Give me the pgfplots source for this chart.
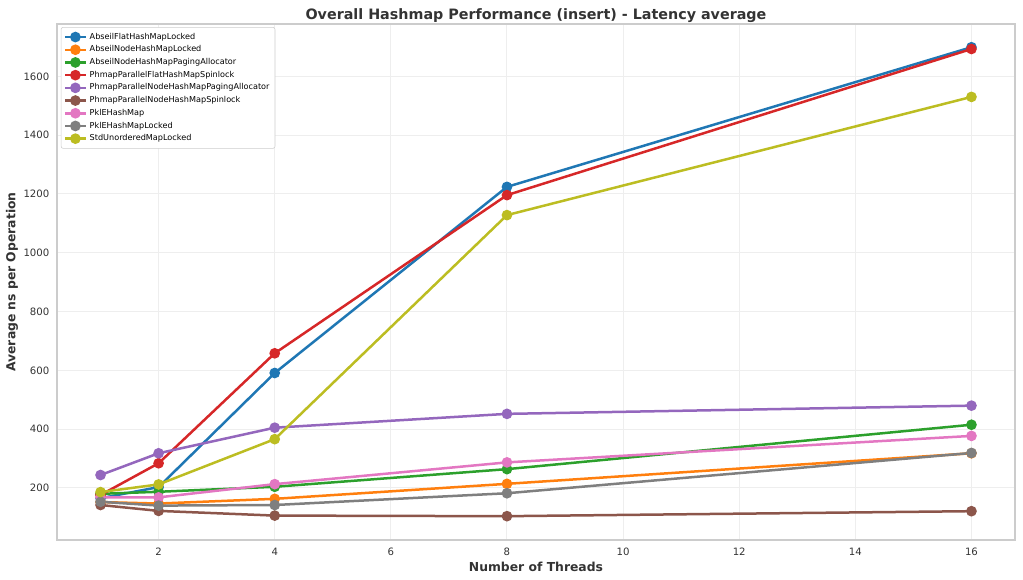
\documentclass[border=0pt]{standalone}
\usepackage{pgfplots}
\pgfplotsset{compat=1.18}
\usepackage{fontspec}
\setmainfont{DejaVu Sans}

\definecolor{c0}{HTML}{1F77B4}
\definecolor{c1}{HTML}{FF7F0E}
\definecolor{c2}{HTML}{2CA02C}
\definecolor{c3}{HTML}{D62728}
\definecolor{c4}{HTML}{9467BD}
\definecolor{c5}{HTML}{8C564B}
\definecolor{c6}{HTML}{E377C2}
\definecolor{c7}{HTML}{7F7F7F}
\definecolor{c8}{HTML}{BCBD22}
\definecolor{spine}{HTML}{CCCCCC}
\definecolor{gridc}{HTML}{EEEEEE}
\definecolor{ticktext}{HTML}{333333}

\begin{document}
\begin{tikzpicture}
\path[use as bounding box] (0,0) rectangle (736.56pt,417.6pt);
\begin{axis}[
  at={(41.04pt,28.8pt)}, anchor=south west,
  scale only axis, width=689.76pt, height=371.52pt,
  xmin=0.25, xmax=16.75, ymin=23, ymax=1778,
  xtick={2,4,...,16}, ytick={200,400,...,1600},
  /pgf/number format/assume math mode=true,
  /pgf/number format/1000 sep={},
  ticklabel style={font=\fontsize{7.3}{8.5}\selectfont, text=ticktext},
  xticklabel style={yshift=-2.5pt},
  yticklabel style={xshift=-2pt},
  major tick length=0pt,
  axis line style={spine, line width=0.8pt},
  grid=major, major grid style={gridc, line width=0.7pt},
  title={\textbf{Overall Hashmap Performance (insert) - Latency average}},
  title style={font=\fontsize{10.3}{12}\selectfont, text=ticktext, yshift=-8.5pt},
  xlabel={\textbf{Number of Threads}},
  ylabel={\textbf{Average ns per Operation}},
  label style={font=\fontsize{8.9}{10}\selectfont, text=ticktext},
  xlabel style={yshift=2.5pt},
  ylabel style={yshift=-3pt},
  every axis plot/.append style={line width=1.8pt, mark=*, mark size=2.9pt},
  legend style={font=\fontsize{5.85}{7}\selectfont, draw=spine, rounded corners=1.5pt,
    row sep=-0.8pt, inner sep=2pt, at={(0.004,0.994)}, anchor=north west},
  legend cell align=left,
  legend image code/.code={
    \draw[mark repeat=2,mark phase=2] plot coordinates {(0cm,0cm) (0.26cm,0cm) (0.52cm,0cm)};},
]
\addplot[c0, mark options={fill=c0}] coordinates {(1,165) (2,203) (4,591) (8,1224) (16,1699)};
\addlegendentry{AbseilFlatHashMapLocked}
\addplot[c1, mark options={fill=c1}] coordinates {(1,152) (2,147) (4,163) (8,214) (16,318)};
\addlegendentry{AbseilNodeHashMapLocked}
\addplot[c2, mark options={fill=c2}] coordinates {(1,180) (2,187) (4,204) (8,264) (16,415)};
\addlegendentry{AbseilNodeHashMapPagingAllocator}
\addplot[c3, mark options={fill=c3}] coordinates {(1,176) (2,284) (4,658) (8,1196) (16,1693)};
\addlegendentry{PhmapParallelFlatHashMapSpinlock}
\addplot[c4, mark options={fill=c4}] coordinates {(1,244) (2,318) (4,405) (8,452) (16,480)};
\addlegendentry{PhmapParallelNodeHashMapPagingAllocator}
\addplot[c5, mark options={fill=c5}] coordinates {(1,142) (2,122) (4,106) (8,104) (16,121)};
\addlegendentry{PhmapParallelNodeHashMapSpinlock}
\addplot[c6, mark options={fill=c6}] coordinates {(1,168) (2,168) (4,213) (8,287) (16,377)};
\addlegendentry{PklEHashMap}
\addplot[c7, mark options={fill=c7}] coordinates {(1,153) (2,140) (4,142) (8,182) (16,319)};
\addlegendentry{PklEHashMapLocked}
\addplot[c8, mark options={fill=c8}] coordinates {(1,186) (2,212) (4,366) (8,1128) (16,1530)};
\addlegendentry{StdUnorderedMapLocked}
\end{axis}
\end{tikzpicture}
\end{document}
